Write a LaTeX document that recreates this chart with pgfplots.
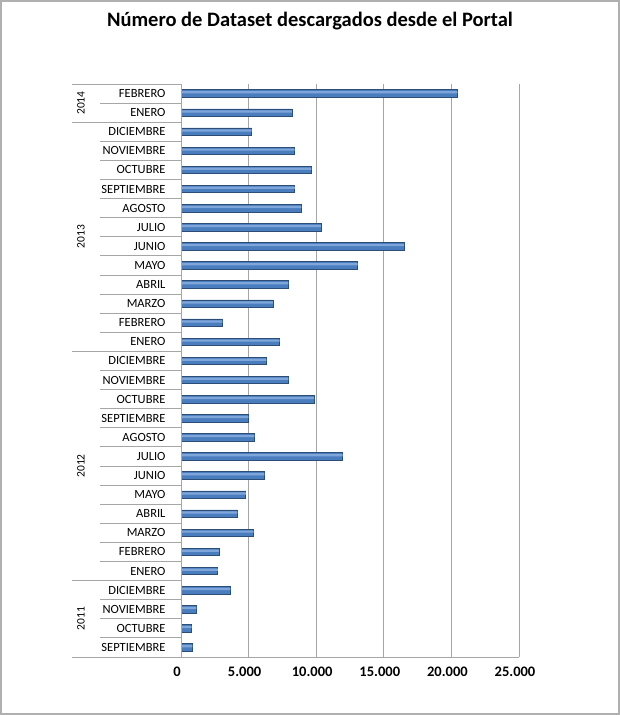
\documentclass[border=0pt]{standalone}
\usepackage{fontspec}
\setmainfont{Carlito}
\usepackage{pgfplots}
\pgfplotsset{compat=1.18}
\definecolor{barmid}{HTML}{4A7DBE}
\definecolor{barlight}{HTML}{7FA6DA}
\definecolor{baredge}{HTML}{2C4D75}
\definecolor{gridc}{HTML}{A6A6A6}
\definecolor{framec}{HTML}{B0B0B0}
\begin{document}
\begin{tikzpicture}[x=1pt,y=1pt]
\path[use as bounding box] (0,0) rectangle (620,715);
\draw[framec, line width=1.2pt] (1,1) rectangle (619,714);
\node[font=\bfseries\fontsize{20.5}{22}\selectfont] at (310,694) {Número de Dataset descargados desde el Portal};
\pgfplotstableread{
x y
840 0
790 1
1130 2
3650 3
2720 4
2810 5
5380 6
4170 7
4790 8
6170 9
11950 10
5430 11
4990 12
9850 13
7950 14
6320 15
7300 16
3060 17
6800 18
7950 19
13060 20
16500 21
10350 22
8900 23
8420 24
9650 25
8400 26
5230 27
8200 28
20450 29
}\datatab
\begin{axis}[
  at={(181pt,58pt)}, anchor=south west,
  scale only axis, width=338pt, height=573pt,
  xmin=0, xmax=25000, ymin=-0.5, ymax=29.5,
  axis line style={gridc, line width=0.8pt},
  axis x line*=bottom, axis y line*=left,
  scaled x ticks=false,
  xtick={0,5000,10000,15000,20000,25000},
  xticklabels={0,5.000,10.000,15.000,20.000,25.000},
  xmajorgrids, major grid style={gridc, line width=0.9pt},
  major tick length=0pt,
  xticklabel style={font=\bfseries\fontsize{14.5}{16}\selectfont, xshift=-4pt, yshift=-6pt},
  ytick={0,...,29},
  yticklabels={SEPTIEMBRE,OCTUBRE,NOVIEMBRE,DICIEMBRE,ENERO,FEBRERO,MARZO,ABRIL,MAYO,JUNIO,JULIO,AGOSTO,SEPTIEMBRE,OCTUBRE,NOVIEMBRE,DICIEMBRE,ENERO,FEBRERO,MARZO,ABRIL,MAYO,JUNIO,JULIO,AGOSTO,SEPTIEMBRE,OCTUBRE,NOVIEMBRE,DICIEMBRE,ENERO,FEBRERO},
  yticklabel style={font=\fontsize{12.5}{14}\selectfont, anchor=east, xshift=-12pt},
  /pgf/number format/assume math mode=true,
  clip=false,
]
\addplot[xbar, bar width=7.5pt, bar shift=0pt, draw=baredge, line width=0.7pt, fill=barmid] table[x=x,y=y] {\datatab};
\addplot[xbar, bar width=2.2pt, bar shift=1.2pt, draw=none, fill=barlight] table[x=x,y=y] {\datatab};
\end{axis}
% row separators
\foreach \k in {1,2,3,5,6,7,8,9,10,11,12,13,14,15,17,18,19,20,21,22,23,24,25,26,27,29}{
  \draw[gridc, line width=0.8pt] (100,{58+\k*19.1}) -- (181,{58+\k*19.1});
}
\foreach \k in {0,4,16,28,30}{
  \draw[gridc, line width=0.8pt] (72,{58+\k*19.1}) -- (181,{58+\k*19.1});
}
\draw[gridc, line width=0.8pt] (181,58) -- (181,631);
\foreach \yr/\c in {2011/2,2012/10,2013/22,2014/29}{
  \node[rotate=90, font=\fontsize{11.5}{13}\selectfont] at (81,{58+\c*19.1}) {\yr};
}
\end{tikzpicture}
\end{document}
